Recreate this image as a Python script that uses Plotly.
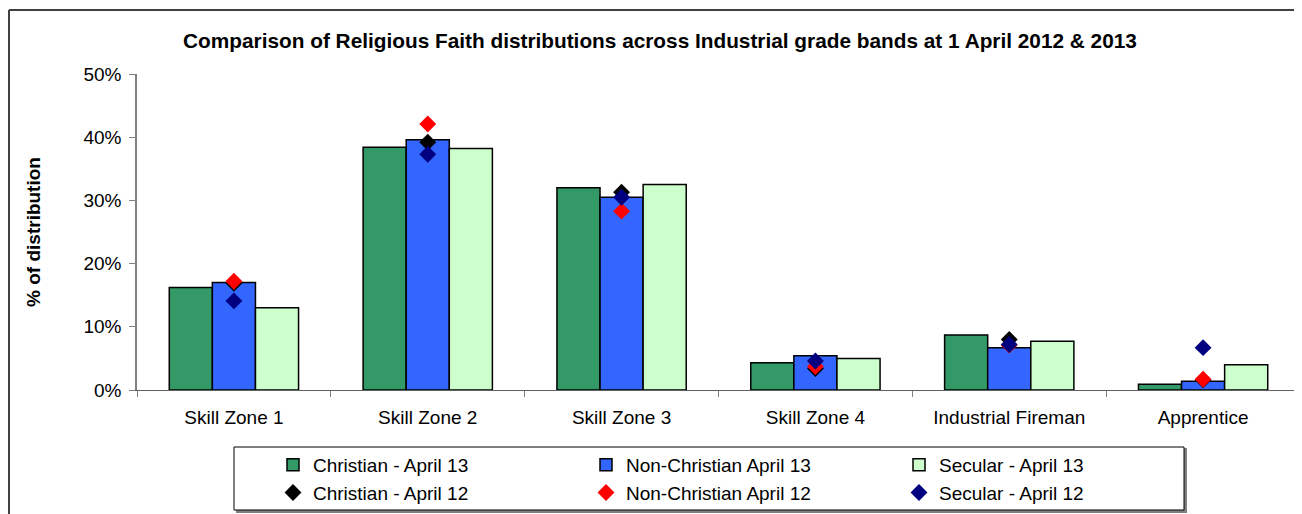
import plotly.graph_objects as go

categories = ["Skill Zone 1", "Skill Zone 2", "Skill Zone 3", "Skill Zone 4", "Industrial Fireman", "Apprentice"]

christian_13 = [0.162, 0.384, 0.320, 0.043, 0.087, 0.009]
non_christian_13 = [0.170, 0.396, 0.305, 0.054, 0.067, 0.014]
secular_13 = [0.130, 0.382, 0.325, 0.050, 0.077, 0.040]

christian_12 = [0.169, 0.392, 0.313, 0.034, 0.080, 0.016]
non_christian_12 = [0.172, 0.421, 0.283, 0.037, 0.071, 0.017]
secular_12 = [0.141, 0.373, 0.305, 0.046, 0.072, 0.067]

y_ticks = [0, 0.1, 0.2, 0.3, 0.4, 0.5]
y_tick_labels = ["0%", "10%", "20%", "30%", "40%", "50%"]

FONT = "Liberation Sans, Arial, sans-serif"

fig = go.Figure()

bar_specs = [
    ("Christian - April 13", christian_13, "#339966"),
    ("Non-Christian April 13", non_christian_13, "#3366FF"),
    ("Secular - April 13", secular_13, "#CCFFCC"),
]
for name, vals, color in bar_specs:
    fig.add_trace(go.Bar(
        x=categories, y=vals, name=name,
        marker=dict(color=color, line=dict(color="black", width=1.5)),
    ))

pt_specs = [
    ("Christian - April 12", christian_12, "#000000"),
    ("Non-Christian April 12", non_christian_12, "#FF0000"),
    ("Secular - April 12", secular_12, "#000080"),
]
for name, vals, color in pt_specs:
    fig.add_trace(go.Scatter(
        x=categories, y=vals, name=name, mode="markers",
        marker=dict(symbol="diamond", size=13, color=color, line=dict(width=0)),
    ))

# page body has an 8px margin, so the figure is drawn 8px right/down
OFF = 8
W, H = 1302 - OFF, 514 - OFF
L, R, T, B = 137 - OFF, 2, 74 - OFF, H - (390 - OFF)
pw, ph = W - L - R, H - T - B

def px_x(x):
    return (x - OFF - L) / pw

def px_y(y):
    return (H - B - (y - OFF)) / ph

fig.update_layout(
    width=W, height=H,
    margin=dict(l=L, r=R, t=T, b=B, autoexpand=False),
    paper_bgcolor="white", plot_bgcolor="white",
    font=dict(family=FONT, size=19, color="black"),
    barmode="group", bargap=0.333, bargroupgap=0,
    title=dict(
        text="<b>Comparison of Religious Faith distributions across Industrial grade bands at 1 April 2012 &amp; 2013</b>",
        x=(660 - OFF) / W, xanchor="center", y=1 - (41 - OFF) / H, yanchor="middle",
        font=dict(family=FONT, size=20.8, color="black"),
    ),
    xaxis=dict(
        showline=True, linecolor="#606060", linewidth=1,
        ticks="outside", ticklen=6, tickcolor="#808080", tickson="boundaries",
        showgrid=False, tickfont=dict(size=19), ticklabelstandoff=10,
        automargin=False,
    ),
    yaxis=dict(
        range=[0, 0.5], tickvals=y_ticks, ticktext=y_tick_labels,
        showline=True, linecolor="#808080", linewidth=1.5,
        ticks="outside", ticklen=6, tickcolor="#808080",
        showgrid=False, zeroline=False, tickfont=dict(size=19),
        ticklabelstandoff=4, automargin=False,
        title=dict(text="<b>% of distribution</b>", font=dict(size=19), standoff=38),
    ),
    legend=dict(
        orientation="h", entrywidth=268, entrywidthmode="pixels",
        x=px_x(273), xanchor="left", y=px_y(446), yanchor="top",
        borderwidth=0, bgcolor="rgba(0,0,0,0)",
        font=dict(size=19), itemwidth=30, tracegroupgap=0,
    ),
    showlegend=True,
    shapes=[
        dict(type="line", xref="paper", yref="paper",
             x0=px_x(9), x1=px_x(9), y0=px_y(10), y1=px_y(514),
             line=dict(color="#404040", width=2)),
        dict(type="line", xref="paper", yref="paper",
             x0=px_x(9), x1=px_x(1302), y0=px_y(10), y1=px_y(10),
             line=dict(color="#404040", width=2)),
        # legend box shadow and box
        dict(type="rect", xref="paper", yref="paper",
             x0=px_x(237), x1=px_x(1186), y0=px_y(449), y1=px_y(512),
             line=dict(color="#808080", width=2), fillcolor="#808080"),
        dict(type="rect", xref="paper", yref="paper",
             x0=px_x(234), x1=px_x(1184), y0=px_y(447), y1=px_y(510),
             line=dict(color="black", width=1), fillcolor="white"),
    ],
)

fig.write_html("out.html", config={"displayModeBar": False})
